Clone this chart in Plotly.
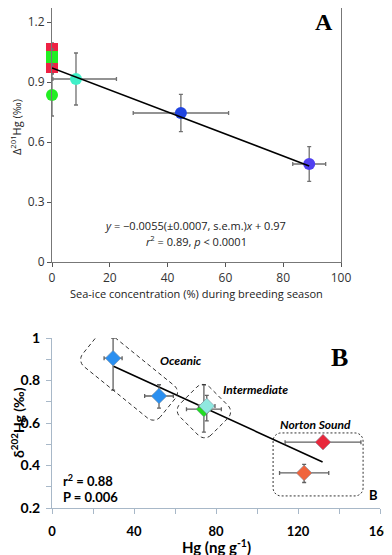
import numpy as np
import plotly.graph_objects as go

# ---- Panel A data: sea-ice vs D201Hg ----
a_x = [0, 0, 0, 0, 8.3, 44.6, 89.0]
a_y = [1.065, 0.975, 1.025, 0.835, 0.915, 0.745, 0.49]
a_xerr_plus = [0, 0, 0, 0, 14.0, 16.5, 5.7]
a_xerr_minus = [0, 0, 0, 0, 8.0, 16.5, 5.7]
a_yerr = [0.03, 0.03, 0.04, 0.105, 0.13, 0.093, 0.087]
a_symbols = ["square", "square", "square", "circle", "circle", "circle", "circle"]
a_colors = ["#ee2244", "#ee2244", "#22ee22", "#22ee22", "#40f0c8", "#2044e0", "#5040f0"]
a_fit = (0.97, -0.0055)      # intercept, slope
a_fit_x = [0, 89]

# ---- Panel B data: Hg vs d202Hg ----
b_x = [29.8, 52.2, 74.1, 75.5, 132.2, 123.0]
b_y = [0.905, 0.727, 0.665, 0.68, 0.51, 0.365]
b_xerr = [4.4, 7.0, 8.5, 4.0, 18.5, 12.0]
b_yerr_plus = [0.095, 0.053, 0.115, 0.05, 0.015, 0.04]
b_yerr_minus = [0.15, 0.057, 0.108, 0.07, 0.015, 0.045]
b_colors = ["#2a8ff0", "#2a8ff0", "#22dd22", "#90e8e0", "#e8283c", "#f0643c"]
b_fit = (1.0, -0.00442)
b_fit_x = [30, 132]

# page body adds an 8px margin, so the figure is drawn 8px smaller and offset
OFF = 8
W, H = 392 - OFF, 555 - OFF


def px_x(px):
    return (px - OFF) / W


def px_y(py):
    return min(1.0, 1 - (py - OFF) / H)


fig = go.Figure()

# panel A
for i in range(len(a_x)):
    fig.add_trace(go.Scatter(
        x=[a_x[i]], y=[a_y[i]], mode="markers", cliponaxis=False,
        marker=dict(symbol=a_symbols[i], size=12, color=a_colors[i]),
        error_x=dict(type="data", symmetric=False, array=[a_xerr_plus[i]],
                     arrayminus=[a_xerr_minus[i]], color="#707070", thickness=1.3, width=2),
        error_y=dict(type="data", array=[a_yerr[i]], color="#707070", thickness=1.3, width=2),
        xaxis="x", yaxis="y", showlegend=False,
    ))
fx = np.array(a_fit_x)
fig.add_trace(go.Scatter(x=fx, y=a_fit[0] + a_fit[1] * fx, mode="lines", cliponaxis=False,
                         line=dict(color="black", width=1.6), xaxis="x", yaxis="y", showlegend=False))

# panel B
fx = np.array(b_fit_x)
fig.add_trace(go.Scatter(x=fx, y=b_fit[0] + b_fit[1] * fx, mode="lines",
                         line=dict(color="black", width=1.6), xaxis="x2", yaxis="y2", showlegend=False))
for i in range(len(b_x)):
    fig.add_trace(go.Scatter(
        x=[b_x[i]], y=[b_y[i]], mode="markers", cliponaxis=False,
        marker=dict(symbol="diamond", size=12, color=b_colors[i], line=dict(color="#8090a0", width=0.6)),
        error_x=dict(type="data", array=[b_xerr[i]], color="#606060", thickness=1.3, width=2),
        error_y=dict(type="data", symmetric=False, array=[b_yerr_plus[i]],
                     arrayminus=[b_yerr_minus[i]], color="#606060", thickness=1.3, width=2),
        xaxis="x2", yaxis="y2", showlegend=False,
    ))

# dashed rounded group boxes (pixel geometry converted to data units)
sx, sy = 2.05, 212.5   # px per data unit in panel B


def rounded_box(cx, cy, length, width, angle, r):
    a = np.radians(angle)
    hl, hw = length / 2 - r, width / 2 - r
    pts = []
    for (ox, oy, a0) in [(hl, hw, 0), (-hl, hw, 90), (-hl, -hw, 180), (hl, -hw, 270)]:
        for t in np.linspace(a0, a0 + 90, 8):
            tt = np.radians(t)
            pts.append((ox + r * np.cos(tt), oy + r * np.sin(tt)))
    path = ""
    for k, (px, py) in enumerate(pts):
        rx = px * np.cos(a) - py * np.sin(a)
        ry = px * np.sin(a) + py * np.cos(a)
        path += ("M" if k == 0 else "L") + f"{cx + rx / sx:.3f},{cy - ry / sy:.4f} "
    return path + "Z"


boxes = [
    (37.6, 0.821, 100, 42, 39, 9, "4px,3px"),
    (74.1, 0.656, 44, 42, 45, 9, "4px,3px"),
    (129.8, 0.405, 90, 63, 0, 8, "2px,2px"),
]
shapes = []
for cx, cy, ln, wd, ang, r, dash in boxes:
    shapes.append(dict(type="path", path=rounded_box(cx, cy, ln, wd, ang, r), xref="x2", yref="y2",
                       line=dict(color="#333", width=1, dash=dash)))

fontA = "Open Sans"
fontB = "Lato"


def note(text, px, py, size, family, color="black", **kw):
    d = dict(text=text, x=px_x(px), y=px_y(py), xref="paper", yref="paper", showarrow=False,
             xanchor="center", yanchor="middle", font=dict(family=family, size=size, color=color))
    d.update(kw)
    return d


annotations = [
    note("<b>A</b>", 324, 22, 24, "Liberation Serif"),
    note("<i>y</i> = −0.0055(±0.0007, s.e.m.)<i>x</i> + 0.97", 195, 225, 11, fontA, "#222"),
    note("<i>r</i><sup>2</sup> = 0.89, <i>p</i> < 0.0001", 196, 241, 11, fontA, "#222"),
    note("Sea-ice concentration (%) during breeding season", 196, 293, 11, fontA, "#222"),
    note("Δ<sup>201</sup>Hg (‰)", 16, 127, 11, fontA, "#222", textangle=-90),
    note("<b>B</b>", 339, 357, 26, "Liberation Serif"),
    note("<b>B</b>", 373, 495, 13, fontB),
    note("<b><i>Oceanic</i></b>", 181, 360, 12, fontB),
    note("<b><i>Intermediate</i></b>", 255, 389, 12, fontB),
    note("<b><i>Norton Sound</i></b>", 315, 424, 12, fontB),
    note("<b>r<sup>2</sup> = 0.88</b>", 61, 480, 13, fontB, xanchor="left"),
    note("<b>P = 0.006</b>", 61, 497, 13, fontB, xanchor="left"),
    note("<b>Hg (ng g<sup>-1</sup>)</b>", 216, 546, 15, fontB),
    note("<b>δ<sup>202</sup>Hg (‰)</b>", 17, 423, 14, fontB, textangle=-90),
]

# panel A top edge cannot go above the page margin: keep 200 px per unit
a_top = (262 - OFF) / 200

fig.update_layout(
    width=W, height=H, margin=dict(l=0, r=0, t=0, b=0),
    paper_bgcolor="white", plot_bgcolor="white",
    shapes=shapes, annotations=annotations,
    xaxis=dict(domain=[px_x(52), px_x(341)], range=[0, 100], dtick=20, anchor="y", automargin=False,
               showline=True, mirror=True, linecolor="#777", linewidth=1.2, ticklabeloverflow="allow",
               ticks="outside", ticklen=4, tickcolor="#555", showgrid=False, zeroline=False,
               tickfont=dict(family=fontA, size=12, color="#333")),
    yaxis=dict(domain=[px_y(262), 1.0], range=[0, a_top], dtick=0.3, anchor="x", automargin=False,
               showline=True, mirror=True, linecolor="#777", linewidth=1.2,
               ticks="outside", ticklen=4, tickcolor="#555", showgrid=False, zeroline=False,
               tickfont=dict(family=fontA, size=12, color="#333")),
    xaxis2=dict(domain=[px_x(52), px_x(380)], range=[0, 160], dtick=40, anchor="y2", automargin=False,
                showline=True, linecolor="#a8b8c8", linewidth=1.2, ticklabeloverflow="allow",
                ticks="outside", ticklen=5, tickcolor="#a8b8c8", ticklabelstandoff=6,
                minor=dict(dtick=20, ticks="outside", ticklen=5, tickcolor="#a8b8c8"),
                showgrid=False, zeroline=False,
                tickfont=dict(family=fontB, size=13, color="black", weight="bold")),
    yaxis2=dict(domain=[px_y(508), px_y(338)], range=[0.2, 1.0], dtick=0.2, anchor="x2",
                automargin=False,
                showline=True, linecolor="#a8b8c8", linewidth=1.2,
                ticks="outside", ticklen=5, tickcolor="#a8b8c8", ticklabelstandoff=3,
                minor=dict(dtick=0.1, ticks="outside", ticklen=5, tickcolor="#a8b8c8"),
                showgrid=False, zeroline=False,
                tickfont=dict(family=fontB, size=14, color="black", weight="bold")),
)

fig.write_html("out.html")
